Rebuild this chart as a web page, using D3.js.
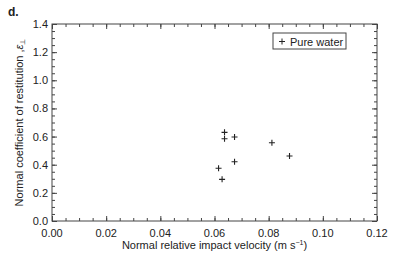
<!DOCTYPE html>
<meta charset="utf-8">
<script src="https://cdn.jsdelivr.net/npm/d3@7"></script>
<style>
body{margin:0;background:#fff;}
text{font-family:"Liberation Sans",Arial,sans-serif;fill:#222;}
.axis path,.axis line{stroke:#444;}
</style>
<div id="vis"></div>
<script>

// data
var velocity = [0.0637, 0.0637, 0.0674, 0.0674, 0.0615, 0.0628, 0.0812, 0.0877];
var restitution = [0.630, 0.585, 0.597, 0.421, 0.375, 0.296, 0.556, 0.462];
var xTicks = [0, 0.02, 0.04, 0.06, 0.08, 0.10, 0.12];
var yTicks = [0, 0.2, 0.4, 0.6, 0.8, 1.0, 1.2, 1.4];
var seriesName = "Pure water";

var w = 407, h = 255;
var margin = {top: 24, right: 30, bottom: 34, left: 52};
var width = w - margin.left - margin.right,
    height = h - margin.top - margin.bottom;

var svg = d3.select("#vis").append("svg")
    .attr("width", w).attr("height", h);

var g = svg.append("g")
    .attr("transform", "translate(" + margin.left + "," + margin.top + ")");

var x = d3.scaleLinear().domain([0, 0.12]).range([0, width]);
var y = d3.scaleLinear().domain([0, 1.4]).range([height, 0]);

var minorX = d3.range(0, 0.1201, 0.005),
    minorY = d3.range(0, 1.401, 0.05);

// frame
g.append("rect").attr("width", width).attr("height", height)
  .attr("fill", "none").attr("stroke", "#444");

// inward ticks on all four sides
function ticks(axis, vals, size, labels) {
  var a = axis(vals === minorX || vals === xTicks ? x : y)
    .tickValues(vals).tickSize(size).tickSizeOuter(0).tickPadding(size + 4);
  if (!labels) a.tickFormat("");
  return a;
}

g.append("g").attr("class", "axis").attr("transform", "translate(0," + height + ")")
  .call(ticks(d3.axisTop, minorX, 3, false));
g.append("g").attr("class", "axis").call(ticks(d3.axisBottom, minorX, 3, false));
g.append("g").attr("class", "axis").call(ticks(d3.axisRight, minorY, 3, false));
g.append("g").attr("class", "axis").attr("transform", "translate(" + width + ",0)")
  .call(ticks(d3.axisLeft, minorY, 3, false));

g.append("g").attr("class", "axis").attr("transform", "translate(0," + height + ")")
  .call(ticks(d3.axisTop, xTicks, 5, false));
g.append("g").attr("class", "axis").call(ticks(d3.axisBottom, xTicks, 5, false));
g.append("g").attr("class", "axis").call(ticks(d3.axisRight, yTicks, 5, false));
g.append("g").attr("class", "axis").attr("transform", "translate(" + width + ",0)")
  .call(ticks(d3.axisLeft, yTicks, 5, false));

g.selectAll("path.domain").remove();

// tick labels
g.selectAll(".xl").data(xTicks).enter().append("text")
  .attr("x", function(d) { return x(d); })
  .attr("y", height + 16)
  .attr("text-anchor", "middle")
  .style("font-size", "11px")
  .text(function(d) { return d3.format(".2f")(d); });

g.selectAll(".yl").data(yTicks).enter().append("text")
  .attr("x", -4)
  .attr("y", function(d) { return y(d) + 4; })
  .attr("text-anchor", "end")
  .style("font-size", "11px")
  .text(function(d) { return d3.format(".1f")(d); });

// points
var pts = velocity.map(function(v, i) { return {x: v, y: restitution[i]}; });
g.selectAll(".pt").data(pts).enter().append("path")
  .attr("d", function(d) {
    var px = x(d.x), py = y(d.y);
    return "M" + (px - 3) + "," + py + "H" + (px + 3) + "M" + px + "," + (py - 3) + "V" + (py + 3);
  })
  .attr("stroke", "#222").attr("stroke-width", 1.1);

// legend
var lg = svg.append("g").attr("transform", "translate(273,33)");
lg.append("rect").attr("width", 73).attr("height", 16)
  .attr("fill", "#fff").attr("stroke", "#444");
lg.append("path").attr("d", "M6,8.5H12M9,5.5V11.5").attr("stroke", "#222");
lg.append("text").attr("x", 17).attr("y", 12.5).style("font-size", "11px").text(seriesName);

// titles
svg.append("text").attr("x", 8).attr("y", 16)
  .style("font-size", "12px").style("font-weight", "bold").text("d.");

svg.append("text")
  .attr("x", margin.left + width / 2).attr("y", 249)
  .attr("text-anchor", "middle").style("font-size", "11px")
  .html("Normal relative impact velocity (m s<tspan dy='-4' font-size='7'>\u22121</tspan><tspan dy='4'>)</tspan>");

svg.append("text")
  .attr("transform", "translate(23," + (margin.top + height / 2) + ") rotate(-90)")
  .attr("text-anchor", "middle").style("font-size", "11px")
  .html("Normal coefficient of restitution ,<tspan font-style='italic'>\u03b5</tspan><tspan dy='2' font-size='7'>\u22a5</tspan>");

</script>
